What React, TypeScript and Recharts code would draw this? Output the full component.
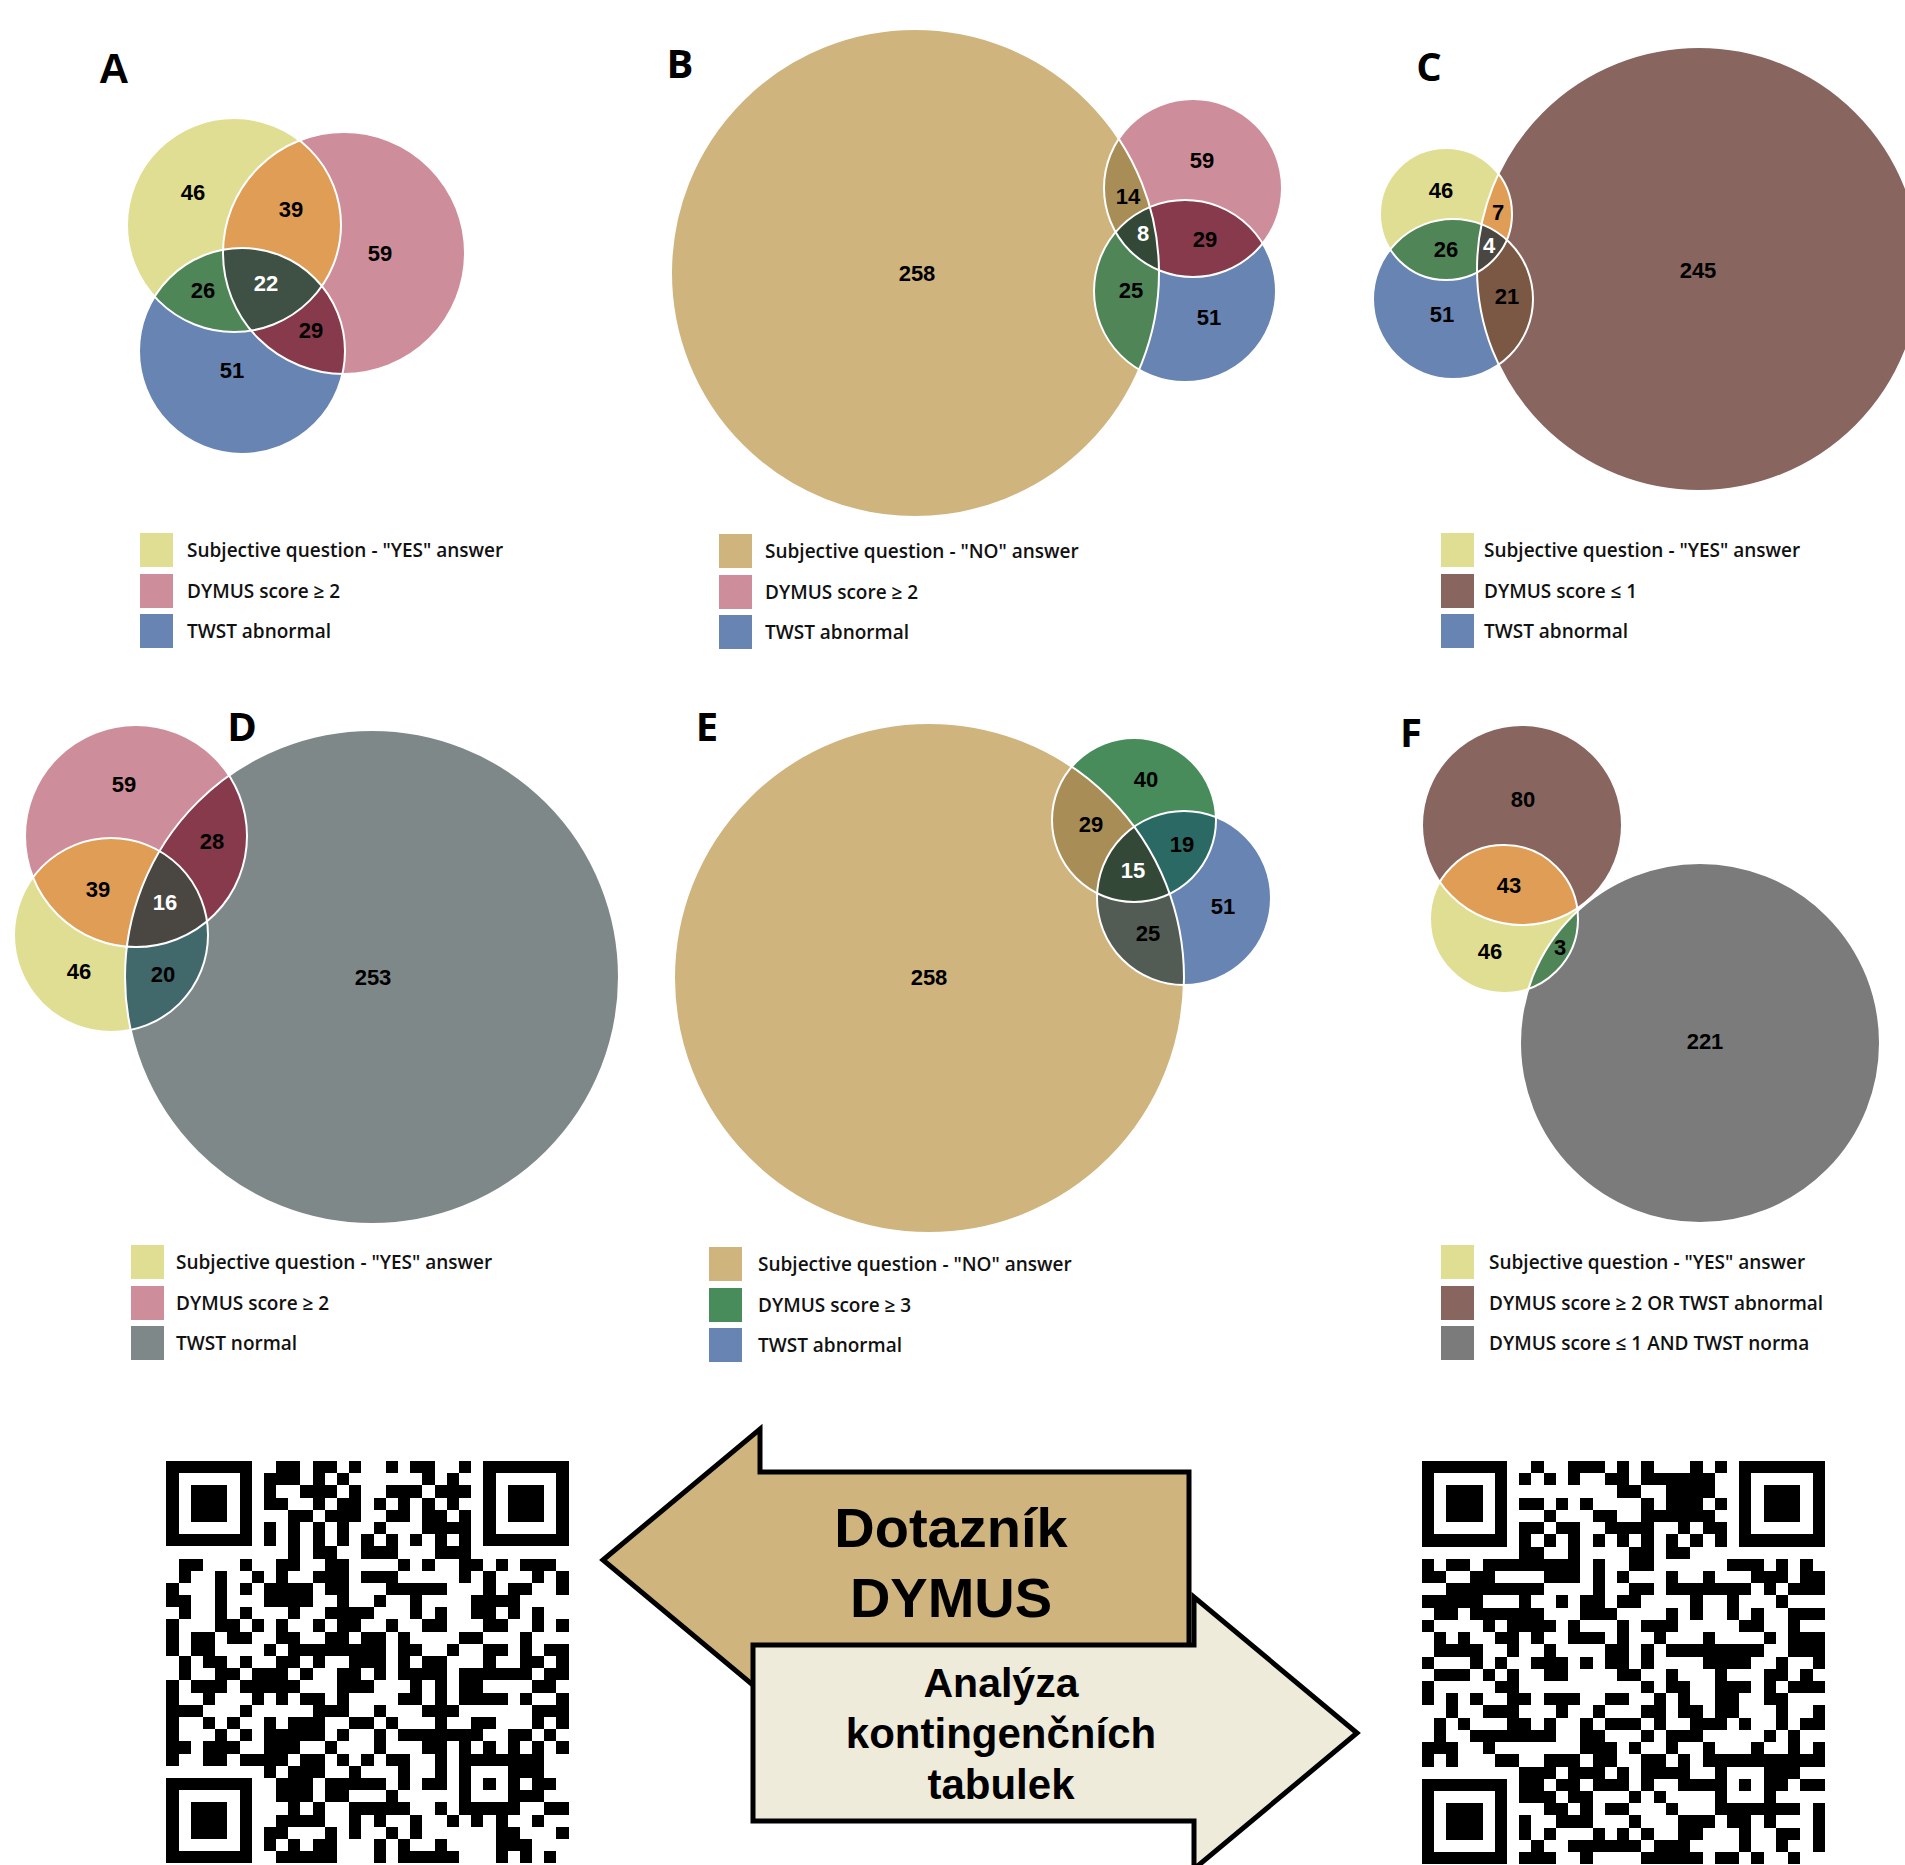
import React from "react";
import { ScatterChart, Scatter, XAxis, YAxis } from "recharts";

// region order used by every count / colour list below
const REGION_KEYS = ["0", "1", "2", "01", "02", "12", "012"];

const setsA = ['Subjective question - "YES" answer', "DYMUS score ≥ 2", "TWST abnormal"];
const countsA = [46, 59, 51, 39, 26, 29, 22];
const setsB = ['Subjective question - "NO" answer', "DYMUS score ≥ 2", "TWST abnormal"];
const countsB = [258, 59, 51, 14, 25, 29, 8];
const setsC = ['Subjective question - "YES" answer', "DYMUS score ≤ 1", "TWST abnormal"];
const countsC = [46, 245, 51, 7, 26, 21, 4];
const setsD = ['Subjective question - "YES" answer', "DYMUS score ≥ 2", "TWST normal"];
const countsD = [46, 59, 253, 39, 20, 28, 16];
const setsE = ['Subjective question - "NO" answer', "DYMUS score ≥ 3", "TWST abnormal"];
const countsE = [258, 40, 51, 29, 25, 19, 15];
const setsF = [
  'Subjective question - "YES" answer',
  "DYMUS score ≥ 2 OR TWST abnormal",
  "DYMUS score ≤ 1 AND TWST norma",
];
const countsF = [46, 80, 221, 43, 3, null, null];

const colorsA = ["#e0de92", "#ce8d9a", "#6784b2", "#df9d56", "#4f8657", "#873a4c", "#3f5044"];
const colorsB = ["#cfb47e", "#ce8d9a", "#6784b2", "#a98d57", "#508657", "#873a4c", "#344838"];
const colorsC = ["#e0de92", "#88655f", "#6784b2", "#df9d56", "#508657", "#7a5843", "#4a4642"];
const colorsD = ["#e0de92", "#ce8d9a", "#7f8889", "#df9d56", "#41686b", "#873a4c", "#4a4642"];
const colorsE = ["#cfb47e", "#478c5a", "#6784b2", "#a98d57", "#525c55", "#2b6964", "#344838"];
const colorsF = ["#e0de92", "#88655f", "#7b7b7b", "#df9d56", "#508657", "", ""];

// venn geometry (page units): circle [x, y, r] per set, label anchor per region
const layoutA = {
  circles: [[234, 225, 107], [344, 253, 121], [242, 351, 103]],
  labels: { "0": [193, 192], "1": [380, 253], "2": [232, 370], "01": [291, 209], "02": [203, 290], "12": [311, 330], "012": [266, 283] },
};
const layoutB = {
  circles: [[915, 273, 244], [1193, 188, 89], [1185, 291, 91]],
  labels: { "0": [917, 273], "1": [1202, 160], "2": [1209, 317], "01": [1128, 196], "02": [1131, 290], "12": [1205, 239], "012": [1143, 233] },
};
const layoutC = {
  circles: [[1446, 214, 66], [1699, 269, 222], [1453, 299, 80]],
  labels: { "0": [1441, 190], "1": [1698, 270], "2": [1442, 314], "01": [1498, 212], "02": [1446, 249], "12": [1507, 296], "012": [1489, 245] },
};
const layoutD = {
  circles: [[111, 935, 97], [136, 836, 111], [372, 977, 247]],
  labels: { "0": [79, 971], "1": [124, 784], "2": [373, 977], "01": [98, 889], "02": [163, 974], "12": [212, 841], "012": [165, 902] },
};
const layoutE = {
  circles: [[929, 978, 255], [1134, 820, 82], [1184, 898, 87]],
  labels: { "0": [929, 977], "1": [1146, 779], "2": [1223, 906], "01": [1091, 824], "02": [1148, 933], "12": [1182, 844], "012": [1133, 870] },
};
const layoutF = {
  circles: [[1504, 919, 74], [1522, 825, 100], [1700, 1043, 180]],
  labels: { "0": [1490, 951], "1": [1523, 799], "2": [1705, 1041], "01": [1509, 885], "02": [1560, 947] },
};

// QR modules, dark runs per row (finders / timing / alignment are drawn separately)
const qrLeft = [
  "9-10,12-13,15,18,20-21,24", "8-10,12,14,21,23", "8,11-13,15,18-20,22-24", "8-9,12,14-15,17,19,21,23",
  "10-11,13-15,18-19,21-22,24", "8,10,12,14,17,21-24", "", "10,12-13,16-18,22-24",
  "1-2,9-10,13-14,19,21,24-25,27,29-31", "1,4,7,9,12-14,16-18,24,26,30,32", "0,4,8-11,13-14,18-22,26,28-29,32",
  "0-1,4,8-11,14,17,20,25-28", "1,4,10,13-16,20,22,25-26,28,30", "0,4-5,7,9,12,14-15,18,21-22,26-27,30,32",
  "0,2-3,5,9-10,13-14,16-17,19,24-25,29", "0,2-3,8,10-17,19-20,23,26-27,29,31-32",
  "1,3-4,9-10,12,15-17,19,21-22,26,29-30,32", "1,4-5,7-9,11,14-15,17,19-22,24-29,31-32",
  "0,2-4,7-10,14-16,20,22,24-25,30-31", "0,3,7,9,11-12,14,19-20,22,24-27,29,32", "0-2,12-14,17,21-23,30-32",
  "0,3,5,8,10-12,15-16,18,22,25-26,30,32", "0,4,8-12,14,17,19-25,28-29,31", "0-1,3-5,8-10,13,17,21-22,24,26,28,30,32",
  "0,3-4,7-9,11-12,14,16,18-19,22,24-30", "10-12,15,19,22,28-30", "9-11,13-17,19,21-22,30-31", "9-11,13-14,18,29-30",
  "10,12,15-19,22,31-32", "9-12,15,17,20,23,25,27,30", "8-9,13,15,18,20,27-28,32", "8,10,12-13,17,19,22,27-29",
  "9-13,17,19-23,27,29,31",
];
const qrRight = [
  "9,12-14,16,18,22,24", "8,10,12,15-16,18-23", "16-17,20-23", "8-9,11,13,18,20-22,24", "10,14-15,18-23",
  "8-9,11-12,15-18,21,23-24", "", "8-9,12,17-18,20-21", "0,2-3,5-12,14,17-18,25-27,29,31",
  "0-1,4-5,10-12,14,16,20,23,27-29,31-32", "2-9,14,17-18,20-26,28,30-32", "0-4,8,11,13-14,16-17,22,25,29",
  "1-2,4-9,13-15,20,22,25,27,30-32", "0,5,7-10,12,16,18-20,26-27,30", "1,3,7,9,12-14,16,19,23,28,30-32",
  "1-4,7,10,15-16,18,20-27,30-32", "0,4,9-11,13,15-16,18,23-26,29,32", "1-3,5,7,10-11,16-17,20,24,28-29,31",
  "0,7,18,20-21,24-26,28,30-32", "0,2,4,7-8,10-12,15-16,19,21,24-25,28-29", "2,5,7,11,14,18-19,21-22,24-25,29,32",
  "1,3,7-8,10,13,15-17,19,22-24,26,29,31-32", "1,4-5,7-10,13-14,18,20-22,28,30", "0-2,5,13-15,17,20,23,27,30,32",
  "0,2,7,10-12,14-15,18-19,21,23,29-32", "8-10,12-14,16,18-21,28-30", "8-9,11-12,14-16,18,21-23,29,31-32",
  "8-10,12-13,17,19", "10-11,13,15-16,20,29-30,32", "8,11-13,17,21-23,25-26,28,32", "8,10,14,16,18,21-22,26,29-30,32",
  "9,12-17,19-21,26,29,32", "8-10,13,18-22,24-25,27,30",
];

type Box = { left: number; top: number; width: number; height: number };

const NUM_FONT = "'Liberation Sans', Arial, sans-serif";
const TXT_FONT = "'Open Sans', 'Noto Sans', sans-serif";

function VennPanel({ id, box, layout, counts, colors }: any) {
  const circleData = layout.circles.map(([x, y, r]: number[], i: number) => ({ x, y, r, i, fill: colors[i] }));
  const regions = REGION_KEYS.map((key, k) => ({ key, count: counts[k], fill: colors[k] })).filter(
    (d) => d.count !== null && d.count !== undefined
  );
  const overlaps = regions
    .filter((d) => d.key.length > 1)
    .map((d) => {
      const sets = d.key.split("").map(Number);
      const last = circleData[sets[sets.length - 1]];
      return { x: last.x, y: last.y, r: last.r, clips: sets.slice(0, -1), fill: d.fill, key: d.key };
    });
  const pairs = overlaps.filter((d) => d.key.length === 2);
  const triples = overlaps.filter((d) => d.key.length === 3);
  const labelData = regions.map((d) => ({
    x: layout.labels[d.key][0],
    y: layout.labels[d.key][1],
    text: d.count,
    white: d.key.length === 3,
  }));

  const baseShape = (p: any) => {
    const d = p.payload;
    return (
      <g>
        <defs>
          <clipPath id={`${id}-c${d.i}`}>
            <circle cx={p.cx} cy={p.cy} r={d.r} />
          </clipPath>
        </defs>
        <circle cx={p.cx} cy={p.cy} r={d.r} fill={d.fill} />
      </g>
    );
  };
  const overlapShape = (p: any) => {
    const d = p.payload;
    let node = <circle cx={p.cx} cy={p.cy} r={d.r} fill={d.fill} />;
    for (const c of d.clips) node = <g clipPath={`url(#${id}-c${c})`}>{node}</g>;
    return node;
  };
  const outlineShape = (p: any) => (
    <circle cx={p.cx} cy={p.cy} r={p.payload.r} fill="none" stroke="#ffffff" strokeWidth={2} />
  );
  const labelShape = (p: any) => (
    <text
      x={p.cx}
      y={p.cy}
      dy="0.36em"
      textAnchor="middle"
      fontFamily={NUM_FONT}
      fontWeight={700}
      fontSize={22}
      fill={p.payload.white ? "#ffffff" : "#000000"}
    >
      {p.payload.text}
    </text>
  );

  return (
    <div style={{ position: "absolute", left: box.left, top: box.top }}>
      <ScatterChart width={box.width} height={box.height} margin={{ top: 0, right: 0, bottom: 0, left: 0 }}>
        <XAxis type="number" dataKey="x" domain={[box.left, box.left + box.width]} allowDataOverflow hide />
        <YAxis type="number" dataKey="y" domain={[box.top, box.top + box.height]} allowDataOverflow reversed hide />
        <Scatter data={circleData} shape={baseShape} isAnimationActive={false} />
        <Scatter data={pairs} shape={overlapShape} isAnimationActive={false} />
        <Scatter data={triples} shape={overlapShape} isAnimationActive={false} />
        <Scatter data={circleData} shape={outlineShape} isAnimationActive={false} />
        <Scatter data={labelData} shape={labelShape} isAnimationActive={false} />
      </ScatterChart>
    </div>
  );
}

function VennLegend({ left, top, names, colors, gap }: any) {
  return (
    <div style={{ position: "absolute", left, top }}>
      {names.map((n: string, i: number) => (
        <div
          key={i}
          style={{
            position: "absolute",
            left: 0,
            top: i * 40.5,
            height: 34,
            display: "flex",
            alignItems: "center",
            whiteSpace: "nowrap",
          }}
        >
          <div style={{ width: 33, height: 34, background: colors[i] }} />
          <span
            style={{
              marginLeft: gap,
              fontFamily: TXT_FONT,
              fontWeight: 600,
              fontSize: 19,
              color: "#111111",
            }}
          >
            {n}
          </span>
        </div>
      ))}
    </div>
  );
}

function parseRuns(s: string) {
  if (!s) return [];
  return s.split(",").map((part) => {
    const [a, b] = part.split("-").map(Number);
    return [a, b === undefined ? a : b];
  });
}

function QRCode({ x, y, m, rows }: any) {
  const rects: any[] = [];
  rows.forEach((row: string, r: number) => {
    parseRuns(row).forEach(([a, b], k) => {
      rects.push(<rect key={`d${r}-${k}`} x={x + a * m} y={y + r * m} width={(b - a + 1) * m} height={m} fill="#000" />);
    });
  });
  for (let i = 8; i <= 24; i += 2) {
    rects.push(<rect key={`th${i}`} x={x + i * m} y={y + 6 * m} width={m} height={m} fill="#000" />);
    rects.push(<rect key={`tv${i}`} x={x + 6 * m} y={y + i * m} width={m} height={m} fill="#000" />);
  }
  rects.push(<rect key="dark" x={x + 8 * m} y={y + 25 * m} width={m} height={m} fill="#000" />);
  const finder = (c: number, r: number, key: string) => (
    <g key={key}>
      <rect x={x + c * m} y={y + r * m} width={7 * m} height={7 * m} fill="#000" />
      <rect x={x + (c + 1) * m} y={y + (r + 1) * m} width={5 * m} height={5 * m} fill="#fff" />
      <rect x={x + (c + 2) * m} y={y + (r + 2) * m} width={3 * m} height={3 * m} fill="#000" />
    </g>
  );
  return (
    <g shapeRendering="crispEdges">
      {rects}
      {finder(0, 0, "f1")}
      {finder(26, 0, "f2")}
      {finder(0, 26, "f3")}
      <rect x={x + 24 * m} y={y + 24 * m} width={5 * m} height={5 * m} fill="#000" />
      <rect x={x + 25 * m} y={y + 25 * m} width={3 * m} height={3 * m} fill="#fff" />
      <rect x={x + 26 * m} y={y + 26 * m} width={m} height={m} fill="#000" />
    </g>
  );
}

const panelLetters = [
  { t: "A", x: 114, y: 68, f: NUM_FONT, s: 42 },
  { t: "B", x: 680, y: 64, f: TXT_FONT, s: 40 },
  { t: "C", x: 1429, y: 67, f: TXT_FONT, s: 40 },
  { t: "D", x: 242, y: 727, f: TXT_FONT, s: 40 },
  { t: "E", x: 707, y: 727, f: TXT_FONT, s: 40 },
  { t: "F", x: 1411, y: 733, f: TXT_FONT, s: 40 },
];

export default function App() {
  const boxA: Box = { left: 0, top: 0, width: 620, height: 520 };
  const boxB: Box = { left: 620, top: 0, width: 720, height: 525 };
  const boxC: Box = { left: 1340, top: 0, width: 565, height: 520 };
  const boxD: Box = { left: 0, top: 680, width: 640, height: 570 };
  const boxE: Box = { left: 640, top: 680, width: 700, height: 570 };
  const boxF: Box = { left: 1340, top: 680, width: 565, height: 570 };

  return (
    <div
      style={{
        position: "absolute",
        left: 0,
        top: 0,
        width: 1905,
        height: 1865,
        overflow: "hidden",
        background: "#ffffff",
      }}
    >
      <svg width={1905} height={1865} style={{ position: "absolute", left: 0, top: 0 }}>
        {panelLetters.map((l) => (
          <text
            key={l.t}
            x={l.x}
            y={l.y}
            dy="0.36em"
            textAnchor="middle"
            fontFamily={l.f}
            fontWeight={700}
            fontSize={l.s}
            fill="#000"
          >
            {l.t}
          </text>
        ))}

        <polygon
          points="603,1560 760,1429 760,1472 1189,1472 1189,1648 760,1648 760,1691"
          fill="#cfb47e"
          stroke="#000"
          strokeWidth={5}
        />
        <polygon
          points="753,1645 1194,1645 1194,1597 1357,1733 1194,1869 1194,1821 753,1821"
          fill="#efebdb"
          stroke="#000"
          strokeWidth={5}
        />
        <g fontFamily={NUM_FONT} fontWeight={700} fill="#000" textAnchor="middle">
          <text x={951} y={1547} fontSize={56}>Dotazník</text>
          <text x={951} y={1617} fontSize={56}>DYMUS</text>
          <text x={1001} y={1697} fontSize={41}>Analýza</text>
          <text x={1001} y={1748} fontSize={42}>kontingenčních</text>
          <text x={1001} y={1799} fontSize={42}>tabulek</text>
        </g>

        <QRCode x={166.4} y={1461} m={12.19} rows={qrLeft} />
        <QRCode x={1421.5} y={1461} m={12.22} rows={qrRight} />
      </svg>

      <VennPanel id="va" box={boxA} layout={layoutA} counts={countsA} colors={colorsA} />
      <VennPanel id="vb" box={boxB} layout={layoutB} counts={countsB} colors={colorsB} />
      <VennPanel id="vc" box={boxC} layout={layoutC} counts={countsC} colors={colorsC} />
      <VennPanel id="vd" box={boxD} layout={layoutD} counts={countsD} colors={colorsD} />
      <VennPanel id="ve" box={boxE} layout={layoutE} counts={countsE} colors={colorsE} />
      <VennPanel id="vf" box={boxF} layout={layoutF} counts={countsF} colors={colorsF} />

      <VennLegend left={140} top={533} names={setsA} colors={colorsA} gap={14} />
      <VennLegend left={719} top={534} names={setsB} colors={colorsB} gap={13} />
      <VennLegend left={1441} top={533} names={setsC} colors={colorsC} gap={10} />
      <VennLegend left={131} top={1245} names={setsD} colors={colorsD} gap={12} />
      <VennLegend left={709} top={1247} names={setsE} colors={colorsE} gap={16} />
      <VennLegend left={1441} top={1245} names={setsF} colors={colorsF} gap={15} />
    </div>
  );
}
